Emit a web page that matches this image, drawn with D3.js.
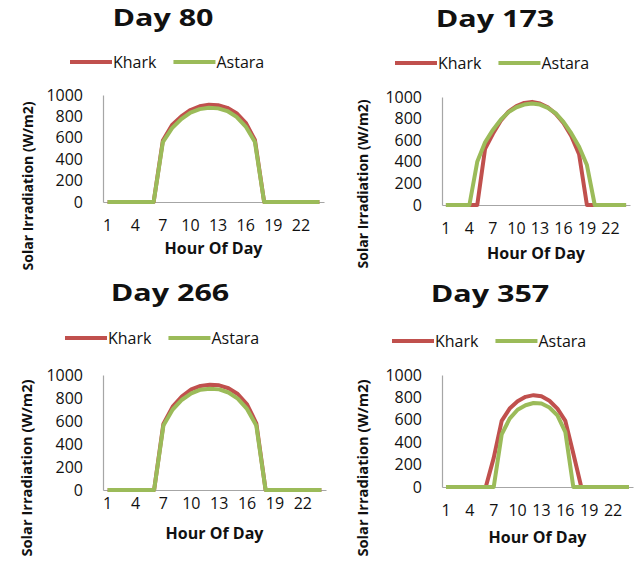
<!DOCTYPE html>
<html>
<head>
<meta charset="utf-8">
<script src="https://cdn.jsdelivr.net/npm/d3@7"></script>
<style>
  body { margin: 0; background: #fff; }
  text { font-family: "Open Sans", sans-serif; fill: #111; }
</style>
</head>
<body>
<script>
// categories
var hours = [1, 2, 3, 4, 5, 6, 7, 8, 9, 10, 11, 12, 13, 14, 15, 16, 17, 18, 19, 20, 21, 22, 23, 24];
var xTickLabels = [1, 4, 7, 10, 13, 16, 19, 22];
var yTicks = [0, 200, 400, 600, 800, 1000];
var seriesNames = ["Khark", "Astara"];
var dayTitles = ["Day 80", "Day 173", "Day 266", "Day 357"];

// solar irradiation (W/m2), hour 1..24
var khark80   = [0, 0, 0, 0, 0, 0, 575, 720, 800, 860, 895, 910, 905, 880, 830, 740, 580, 0, 0, 0, 0, 0, 0, 0];
var astara80  = [0, 0, 0, 0, 0, 0, 560, 690, 775, 835, 868, 880, 875, 850, 795, 705, 560, 0, 0, 0, 0, 0, 0, 0];
var khark173  = [0, 0, 0, 0, 0, 520, 660, 780, 865, 915, 945, 955, 940, 905, 845, 760, 640, 470, 0, 0, 0, 0, 0, 0];
var astara173 = [0, 0, 0, 0, 400, 580, 695, 790, 860, 905, 930, 940, 930, 900, 850, 770, 665, 540, 370, 0, 0, 0, 0, 0];
var khark266  = [0, 0, 0, 0, 0, 0, 575, 725, 815, 875, 905, 915, 910, 885, 835, 745, 580, 0, 0, 0, 0, 0, 0, 0];
var astara266 = [0, 0, 0, 0, 0, 0, 560, 700, 785, 840, 872, 880, 875, 848, 795, 705, 560, 0, 0, 0, 0, 0, 0, 0];
var khark357  = [0, 0, 0, 0, 0, 0, 260, 590, 700, 765, 805, 820, 810, 770, 700, 590, 300, 0, 0, 0, 0, 0, 0, 0];
var astara357 = [0, 0, 0, 0, 0, 0, 0, 470, 610, 690, 730, 750, 745, 710, 640, 490, 0, 0, 0, 0, 0, 0, 0, 0];

var dayData = [
    [khark80, astara80],
    [khark173, astara173],
    [khark266, astara266],
    [khark357, astara357]
];

var colors = ["#c0504d", "#9bbb59"];

// where each little chart sits on the page
var layout = [
    { x0: 103, x1: 324, yb: 202, yt: 95,  titleX: 163, titleY: 26,  legX: 70,  legY: 62,  ylabX: 28,  ylabY: 186, tickY: 225, xlabY: 248 },
    { x0: 442, x1: 630, yb: 205, yt: 97,  titleX: 495, titleY: 27,  legX: 395, legY: 63,  ylabX: 363, ylabY: 184, tickY: 228, xlabY: 253 },
    { x0: 103, x1: 326, yb: 490, yt: 375, titleX: 170, titleY: 301, legX: 65,  legY: 338, ylabX: 27,  ylabY: 468, tickY: 503, xlabY: 533 },
    { x0: 442, x1: 633, yb: 487, yt: 375, titleX: 490, titleY: 302, legX: 392, legY: 341, ylabX: 363, ylabY: 468, tickY: 510, xlabY: 537 }
];

var svg = d3.select("body")
    .append("svg")
    .attr("width", 641)
    .attr("height", 561);

layout.forEach(function (p, i) {
    var g = svg.append("g");

    var x = d3.scaleBand().domain(hours).range([p.x0, p.x1]).padding(0);
    var y = d3.scaleLinear().domain([0, 1000]).range([p.yb, p.yt]);
    var cx = function (h) { return x(h) + x.bandwidth() / 2; };

    // title
    g.append("text")
        .attr("transform", "translate(" + p.titleX + "," + p.titleY + ") scale(1.27,1)")
        .attr("text-anchor", "middle")
        .style("font-size", "24px")
        .style("font-weight", "bold")
        .text(dayTitles[i]);

    // legend
    var lx = p.legX;
    seriesNames.forEach(function (name, k) {
        g.append("line")
            .attr("x1", lx).attr("x2", lx + 42)
            .attr("y1", p.legY).attr("y2", p.legY)
            .style("stroke", colors[k])
            .style("stroke-width", 4);
        var t = g.append("text")
            .attr("x", lx + 43)
            .attr("y", p.legY)
            .attr("dy", "0.35em")
            .style("font-size", "16px")
            .text(name);
        lx = lx + 43 + t.node().getComputedTextLength() + 17;
    });

    // y axis
    var yAxis = g.append("g")
        .attr("transform", "translate(" + p.x0 + ",0)")
        .call(d3.axisLeft(y).tickValues(yTicks).tickFormat(d3.format("d"))
            .tickSize(0).tickSizeOuter(0).tickPadding(20));
    yAxis.select(".domain").style("stroke", "#a6a6a6").style("stroke-width", 1.2);
    yAxis.selectAll("text")
        .style("font-family", "'Open Sans', sans-serif")
        .style("font-size", "16px")
        .style("fill", "#111");

    // x axis
    var xAxis = g.append("g")
        .attr("transform", "translate(0," + p.yb + ")")
        .call(d3.axisBottom(x).tickValues(xTickLabels).tickSize(0).tickSizeOuter(0));
    xAxis.select(".domain").style("stroke", "#a6a6a6").style("stroke-width", 1.2);
    xAxis.selectAll("text")
        .attr("y", p.tickY - p.yb)
        .attr("dy", "0.35em")
        .style("font-family", "'Open Sans', sans-serif")
        .style("font-size", "16px")
        .style("fill", "#111");

    // axis titles
    g.append("text")
        .attr("transform", "translate(" + p.ylabX + "," + p.ylabY + ") rotate(-90)")
        .attr("text-anchor", "middle")
        .attr("dy", "0.35em")
        .style("font-size", i < 2 ? "14px" : "14.7px")
        .style("font-weight", "bold")
        .text("Solar Irradiation (W/m2)");

    g.append("text")
        .attr("x", (p.x0 + p.x1) / 2)
        .attr("y", p.xlabY)
        .attr("dy", "0.35em")
        .attr("text-anchor", "middle")
        .style("font-size", "16px")
        .style("font-weight", "bold")
        .text("Hour Of Day");

    // lines
    var line = d3.line()
        .x(function (d, j) { return cx(hours[j]); })
        .y(function (d) { return y(d); });

    dayData[i].forEach(function (vals, k) {
        g.append("path")
            .datum(vals)
            .attr("d", line)
            .style("fill", "none")
            .style("stroke", colors[k])
            .style("stroke-width", 4)
            .style("stroke-linejoin", "round");
    });
});
</script>
</body>
</html>
